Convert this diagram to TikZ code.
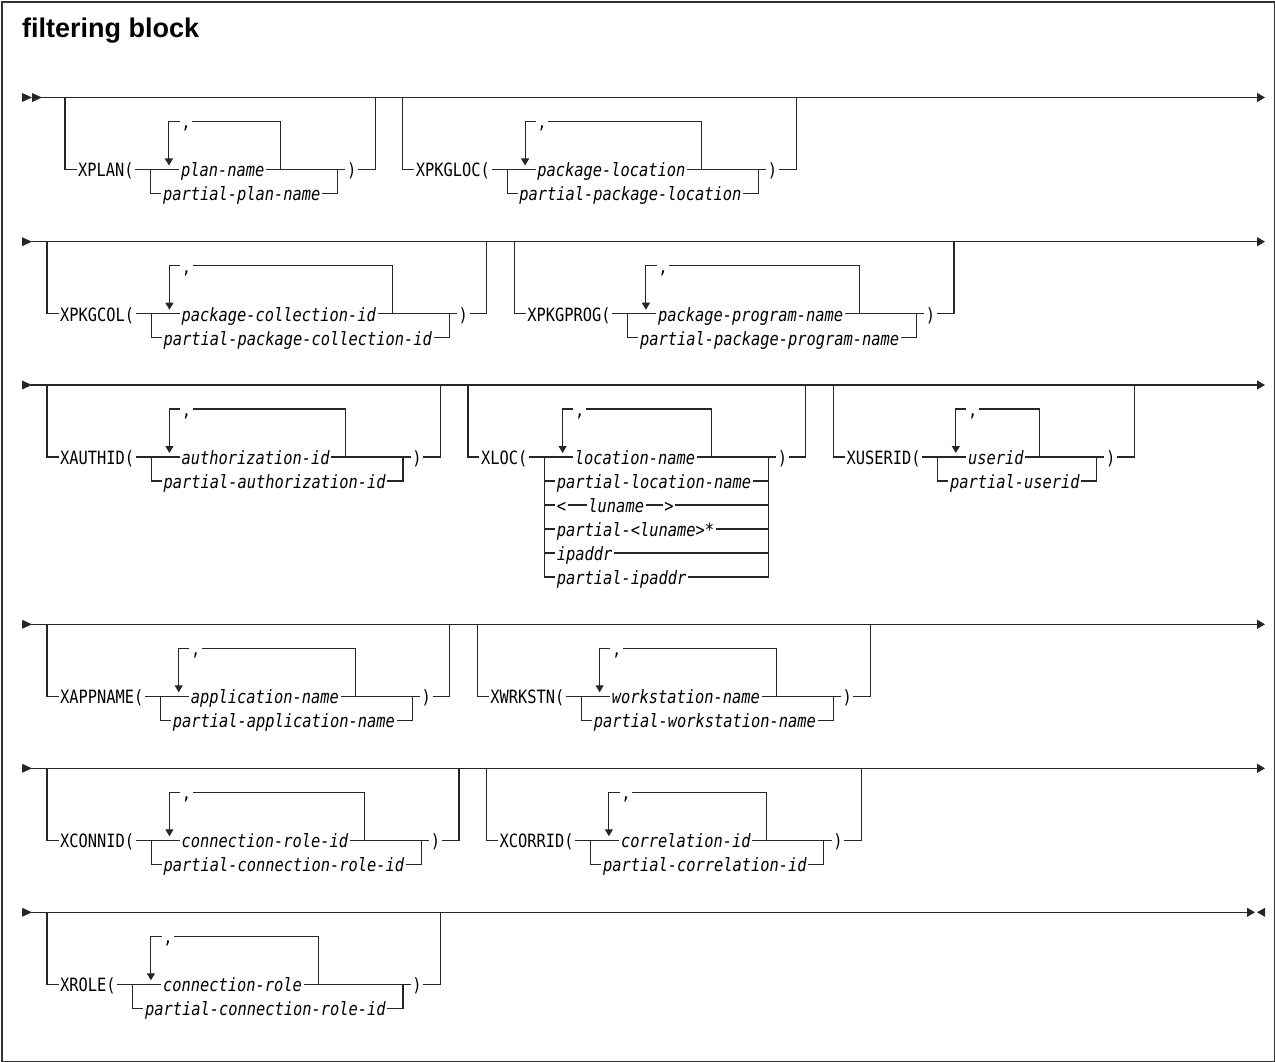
\documentclass[tikz,border=0pt]{standalone}
\usepackage{fontspec}
\setmainfont{Liberation Sans}
\newfontfamily\mono[FakeStretch=0.84]{DejaVu Sans Mono}
\usetikzlibrary{calc,arrows.meta}
\tikzset{
  ln/.style={line width=1.1pt, draw=black!85},
  kw/.style={inner xsep=1.5pt, inner ysep=0pt, text height=16pt, text depth=1.4pt,
             font=\mono\fontsize{18.3}{20}\selectfont},
  var/.style={kw, font=\mono\itshape\fontsize{18.3}{20}\selectfont},
  dn/.style={-{Triangle[width=8pt,length=7pt]}},
  rt/.style={-{Triangle[width=9pt,length=8pt]}},
}
% #1 id, #2 start coordinate on main line, #3 keyword, #4 item, #5 partial item
\newcommand\synblk[5]{%
  \coordinate (#1a) at #2;
  \node[kw,anchor=west] (#1k) at ($(#1a)+(11.5,72)$) {#3};
  \coordinate (#1s) at ($(#1k.east)+(15.5,0)$);
  \coordinate (#1r) at ($(#1s)+(18,0)$);
  \node[var,anchor=west] (#1m) at ($(#1r)+(10.5,0)$) {#4};
  \coordinate (#1t) at ($(#1m.east)+(14.5,0)$);
  \node[kw] (#1q) at ($(#1r)+(17,-48)$) {,};
  \node[var,anchor=west] (#1p) at ($(#1s)+(10.5,24)$) {#5};
  \coordinate (#1j) at ($(#1p.east)+(15.5,-24)$);
  \node[kw] (#1c) at ($(#1j)+(14,0)$) {)};
  \coordinate (#1e) at ($(#1j)+(37.5,0)$);
  \draw[ln] (#1a) |- (#1k.west);
  \draw[ln] (#1k.east) -- (#1m.west);
  \draw[ln] (#1m.east) -- (#1c.west);
  \draw[ln] (#1s) |- (#1p.west);
  \draw[ln] (#1p.east) -| (#1j);
  \draw[ln] (#1c.east) -| (#1e |- #1a);
  \draw[ln] (#1t) |- (#1q.east);
  \draw[ln,dn] (#1q.west) -| ($(#1r)+(0,-4)$);
}
\newcommand\startarrow[2]{\fill[black!85] (#1,#2-4.5) -- (#1+10,#2) -- (#1,#2+4.5) -- cycle;}
\begin{document}
\begin{tikzpicture}[x=1pt,y=-1pt]
\useasboundingbox (0,0) rectangle (1275,1062);
\draw[line width=1.1pt, draw=black!80] (2,2) rectangle (1274.5,1061.5);
\node[anchor=base west, inner sep=0, font=\bfseries\fontsize{27}{30}\selectfont] (title) at (22,38) {filtering block};

% ---------- row 1 ----------
\startarrow{22}{97.5}\startarrow{32}{97.5}
\coordinate (r1s) at (41,97.5);
\coordinate (r1e) at (1265,97.5);
\draw[ln,rt] (r1s) -- (r1e);
\synblk{b1}{(65,97.5)}{XPLAN(}{plan-name}{partial-plan-name}
\synblk{b2}{($(b1e |- b1a)+(27.5,0)$)}{XPKGLOC(}{package-location}{partial-package-location}

% ---------- row 2 ----------
\startarrow{22}{241.7}
\coordinate (r2s) at (31,241.7);
\coordinate (r2e) at (1265,241.7);
\draw[ln,rt] (r2s) -- (r2e);
\synblk{b3}{(47,241.7)}{XPKGCOL(}{package-collection-id}{partial-package-collection-id}
\synblk{b4}{($(b3e |- b3a)+(27.5,0)$)}{XPKGPROG(}{package-program-name}{partial-package-program-name}

% ---------- row 3 ----------
\startarrow{22}{385}
\coordinate (r3s) at (31,385);
\coordinate (r3e) at (1265,385);
\draw[ln,rt] (r3s) -- (r3e);
\synblk{b5}{(47,385)}{XAUTHID(}{authorization-id}{partial-authorization-id}
% XLOC block
\coordinate (xla) at ($(b5e |- b5a)+(27.5,0)$);
\node[kw,anchor=west] (xlk) at ($(xla)+(11.5,72)$) {XLOC(};
\coordinate (xls) at ($(xlk.east)+(15.5,0)$);
\coordinate (xlr) at ($(xls)+(18,0)$);
\node[var,anchor=west] (xlm) at ($(xlr)+(10.5,0)$) {location-name};
\coordinate (xlt) at ($(xlm.east)+(14.5,0)$);
\node[kw] (xlq) at ($(xlr)+(17,-48)$) {,};
\node[var,anchor=west] (xlp1) at ($(xls)+(10.5,24)$) {partial-location-name};
\node[var,anchor=west] (xlp2a) at ($(xls)+(10.5,48)$) {<};
\node[var,anchor=west] (xlp2b) at ($(xlp2a.east)+(19,0)$) {luname};
\node[var,anchor=west] (xlp2c) at ($(xlp2b.east)+(17,0)$) {>};
\node[var,anchor=west] (xlp3) at ($(xls)+(10.5,72)$) {partial-<luname>*};
\node[var,anchor=west] (xlp4) at ($(xls)+(10.5,96)$) {ipaddr};
\node[var,anchor=west] (xlp5) at ($(xls)+(10.5,120)$) {partial-ipaddr};
\coordinate (xlj) at ($(xlp1.east)+(15.5,-24)$);
\node[kw] (xlc) at ($(xlj)+(14,0)$) {)};
\coordinate (xle) at ($(xlj)+(37.5,0)$);
\draw[ln] (xla) |- (xlk.west);
\draw[ln] (xlk.east) -- (xlm.west);
\draw[ln] (xlm.east) -- (xlc.west);
\draw[ln] (xls) |- (xlp5.west);
\draw[ln] (xlp1.west -| xls) -- (xlp1.west);
\draw[ln] (xlp2a.west -| xls) -- (xlp2a.west);
\draw[ln] (xlp3.west -| xls) -- (xlp3.west);
\draw[ln] (xlp4.west -| xls) -- (xlp4.west);
\draw[ln] (xlp5.east) -| (xlj);
\draw[ln] (xlp1.east) -- (xlp1.east -| xlj);
\draw[ln] (xlp2a.east) -- (xlp2b.west);
\draw[ln] (xlp2b.east) -- (xlp2c.west);
\draw[ln] (xlp2c.east) -- (xlp2c.east -| xlj);
\draw[ln] (xlp3.east) -- (xlp3.east -| xlj);
\draw[ln] (xlp4.east) -- (xlp4.east -| xlj);
\draw[ln] (xlc.east) -| (xle |- xla);
\draw[ln] (xlt) |- (xlq.east);
\draw[ln,dn] (xlq.west) -| ($(xlr)+(0,-4)$);
\synblk{b6}{($(xle |- xla)+(27.5,0)$)}{XUSERID(}{userid}{partial-userid}

% ---------- row 4 ----------
\startarrow{22}{624.3}
\coordinate (r4s) at (31,624.3);
\coordinate (r4e) at (1265,624.3);
\draw[ln,rt] (r4s) -- (r4e);
\synblk{b7}{(47,624.3)}{XAPPNAME(}{application-name}{partial-application-name}
\synblk{b8}{($(b7e |- b7a)+(27.5,0)$)}{XWRKSTN(}{workstation-name}{partial-workstation-name}

% ---------- row 5 ----------
\startarrow{22}{768.3}
\coordinate (r5s) at (31,768.3);
\coordinate (r5e) at (1265,768.3);
\draw[ln,rt] (r5s) -- (r5e);
\synblk{b9}{(47,768.3)}{XCONNID(}{connection-role-id}{partial-connection-role-id}
\synblk{b10}{($(b9e |- b9a)+(27.5,0)$)}{XCORRID(}{correlation-id}{partial-correlation-id}

% ---------- row 6 ----------
\startarrow{22}{912.3}
\coordinate (r6s) at (31,912.3);
\coordinate (r6e) at (1255,912.3);
\draw[ln,rt] (r6s) -- (r6e);
\fill[black!85] (1265,912.3-4.5) -- (1257,912.3) -- (1265,912.3+4.5) -- cycle;
\synblk{b11}{(47,912.3)}{XROLE(}{connection-role}{partial-connection-role-id}
\end{tikzpicture}
\end{document}
